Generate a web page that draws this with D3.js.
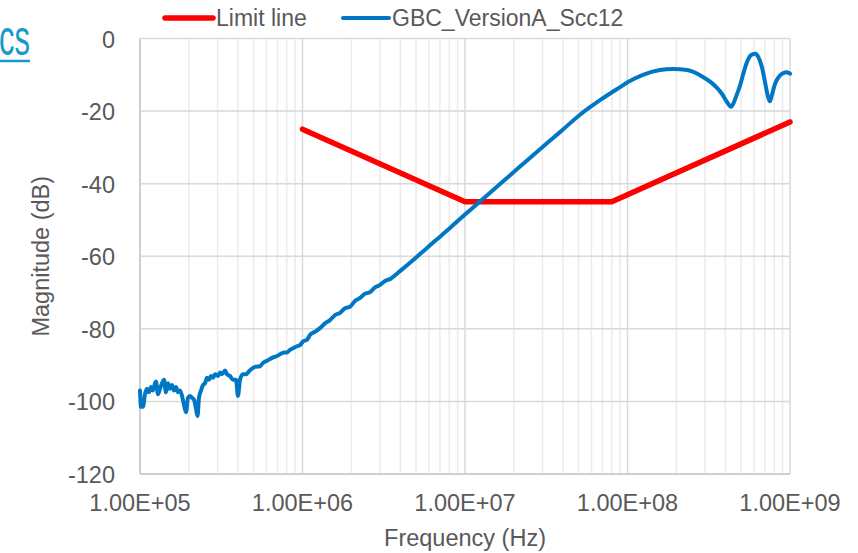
<!DOCTYPE html>
<meta charset="utf-8">
<style>
body { margin: 0; background: #fff; }
text { font-family: "Liberation Sans", Arial, sans-serif; fill: #595959; }
</style>
<svg width="858" height="553"></svg>
<script src="https://d3js.org/d3.v7.min.js"></script>
<script>

// measured trace (Hz, dB)
var sccFreq = [
  1.000e5, 1.014e5, 1.043e5, 1.073e5, 1.104e5, 1.136e5, 1.169e5, 1.202e5, 1.237e5, 1.254e5,
  1.290e5, 1.328e5, 1.366e5, 1.405e5, 1.445e5, 1.487e5, 1.530e5, 1.574e5, 1.619e5, 1.666e5,
  1.714e5, 1.763e5, 1.814e5, 1.866e5, 1.919e5, 1.974e5, 2.031e5, 2.089e5, 2.149e5, 2.211e5,
  2.259e5, 2.307e5, 2.373e5, 2.442e5, 2.512e5, 2.584e5, 2.659e5, 2.735e5, 2.814e5, 2.895e5,
  3.020e5, 3.107e5, 3.196e5, 3.335e5, 3.431e5, 3.580e5, 3.735e5, 3.897e5, 4.009e5, 4.125e5,
  4.304e5, 4.490e5, 4.753e5, 5.102e5, 5.476e5, 5.714e5, 6.047e5, 6.492e5, 6.969e5, 7.271e5,
  7.695e5, 8.029e5, 8.377e5, 8.865e5, 9.250e5, 9.652e5, 1.007e6, 1.066e6, 1.112e6, 1.194e6,
  1.281e6, 1.375e6, 1.476e6, 1.585e6, 1.701e6, 1.826e6, 1.960e6, 2.104e6, 2.259e6, 2.424e6,
  2.602e6, 2.793e6, 2.999e6, 3.219e6, 3.455e6, 3.981e6, 4.587e6, 5.285e6, 6.089e6, 7.017e6,
  8.085e6, 1.000e7, 1.237e7, 1.642e7, 2.180e7, 2.894e7, 3.842e7, 5.102e7, 6.774e7, 8.993e7,
  1.007e8, 1.245e8, 1.585e8, 1.905e8, 2.324e8, 2.914e8, 3.310e8, 3.554e8, 3.820e8, 4.096e8,
  4.335e8, 4.523e8, 4.720e8, 4.924e8, 5.138e8, 5.437e8, 5.754e8, 6.091e8, 6.446e8, 6.725e8,
  7.017e8, 7.320e8, 7.532e8, 7.748e8, 8.085e8, 8.557e8, 9.055e8, 9.583e8, 1.000e9
];
var sccMag = [
  -97, -101.5, -101.5, -98, -96.5, -97.5, -96, -97, -95, -94.5,
  -98, -96.5, -95, -94, -97.5, -95, -96.5, -95.5, -97, -96,
  -97.5, -97, -98.5, -101, -103, -99, -98.5, -99, -99.5, -102,
  -104, -99, -97, -95.5, -95, -93.5, -94, -93, -93.5, -92.5,
  -93, -92, -92.5, -91.5, -92.5, -93, -94, -94, -98.5, -94,
  -92.5, -92.5, -91.4, -90.5, -90.3, -89.4, -88.8, -88, -87.5, -87,
  -86.5, -86.5, -85.8, -85.2, -84.8, -84.5, -83.5, -83, -81.7, -80.8,
  -79.8, -78.5, -77.6, -76.2, -75.6, -74.3, -73.9, -72.3, -71.5, -70.3,
  -69.9, -68.6, -67.9, -66.8, -66.3, -64.1, -61.8, -59.4, -57.0, -54.6,
  -52.2, -48.5, -44.9, -40.1, -35.3, -30.5, -25.8, -21, -17, -13.4,
  -12.0, -10, -8.7, -8.4, -8.7, -10.6, -12.3, -13.6, -15.3, -17.5,
  -18.8, -17.5, -15.3, -13, -10, -6.5, -4.6, -4.2, -5.5, -8,
  -12, -16, -17.3, -15.5, -12.5, -10.5, -9.6, -9.3, -9.7
];

var limitFreq = [1e6, 1e7, 8e7, 1e9];
var limitMag = [-25, -45, -45, -23];

var xTicks = [1e5, 1e6, 1e7, 1e8, 1e9];
var xTickLabels = ["1.00E+05", "1.00E+06", "1.00E+07", "1.00E+08", "1.00E+09"];
var yTicks = [0, -20, -40, -60, -80, -100, -120];

var seriesNames = ["Limit line", "GBC_VersionA_Scc12"];

var svg = d3.select("svg");
var pLeft = 140, pRight = 790, pTop = 38.5, pBottom = 474;

var x = d3.scaleLog().domain([1e5, 1e9]).range([pLeft, pRight]);
var y = d3.scaleLinear().domain([-120, 0]).range([pBottom, pTop]);

// minor vertical grid
var minor = [];
for (var p = 5; p < 9; p++) {
  for (var k = 2; k <= 9; k++) minor.push(k * Math.pow(10, p));
}
svg.append("g").selectAll("line").data(minor).enter().append("line")
  .attr("x1", function(d) { return x(d); }).attr("x2", function(d) { return x(d); })
  .attr("y1", pTop).attr("y2", pBottom)
  .attr("stroke", "#ebebeb").attr("stroke-width", 1.5);

// major grid
svg.append("g").selectAll("line").data(xTicks).enter().append("line")
  .attr("x1", function(d) { return x(d); }).attr("x2", function(d) { return x(d); })
  .attr("y1", pTop).attr("y2", pBottom)
  .attr("stroke", "#d9d9d9").attr("stroke-width", 1.5);
svg.append("g").selectAll("line").data(yTicks).enter().append("line")
  .attr("x1", pLeft).attr("x2", pRight)
  .attr("y1", function(d) { return y(d); }).attr("y2", function(d) { return y(d); })
  .attr("stroke", "#d9d9d9").attr("stroke-width", 1.5);

// axis lines
svg.append("line").attr("x1", pLeft).attr("x2", pLeft).attr("y1", pTop).attr("y2", pBottom)
  .attr("stroke", "#c8c8c8").attr("stroke-width", 1.5);
svg.append("line").attr("x1", pLeft).attr("x2", pRight).attr("y1", pBottom).attr("y2", pBottom)
  .attr("stroke", "#c8c8c8").attr("stroke-width", 1.5);

// tick labels
svg.append("g").selectAll("text").data(yTicks).enter().append("text")
  .attr("x", 115).attr("y", function(d) { return y(d) + 9; })
  .attr("text-anchor", "end").style("font-size", "23.5px")
  .text(function(d) { return d; });
svg.append("g").selectAll("text").data(xTicks).enter().append("text")
  .attr("x", function(d) { return x(d); }).attr("y", 511)
  .attr("text-anchor", "middle").style("font-size", "23.5px")
  .text(function(d, i) { return xTickLabels[i]; });

// axis titles
svg.append("text").attr("x", 465).attr("y", 546).attr("text-anchor", "middle")
  .style("font-size", "23.5px").text("Frequency (Hz)");
svg.append("text").attr("transform", "translate(49," + ((pTop + pBottom) / 2) + ") rotate(-90)")
  .attr("text-anchor", "middle").style("font-size", "23.5px").text("Magnitude (dB)");

// series
var line = d3.line()
  .x(function(d) { return x(d[0]); })
  .y(function(d) { return y(d[1]); });

svg.append("path")
  .datum(limitFreq.map(function(f, i) { return [f, limitMag[i]]; }))
  .attr("d", line.curve(d3.curveLinear))
  .attr("fill", "none").attr("stroke", "#ff0000").attr("stroke-width", 5.5)
  .attr("stroke-linejoin", "round").attr("stroke-linecap", "round");

svg.append("path")
  .datum(sccFreq.map(function(f, i) { return [f, sccMag[i]]; }))
  .attr("d", line.curve(d3.curveMonotoneX))
  .attr("fill", "none").attr("stroke", "#0077c5").attr("stroke-width", 4)
  .attr("stroke-linejoin", "round").attr("stroke-linecap", "round");

// legend
svg.append("line").attr("x1", 165).attr("x2", 213).attr("y1", 18).attr("y2", 18)
  .attr("stroke", "#ff0000").attr("stroke-width", 5.5).attr("stroke-linecap", "round");
svg.append("text").attr("x", 216).attr("y", 26).style("font-size", "23px").text(seriesNames[0]);
svg.append("line").attr("x1", 343).attr("x2", 389).attr("y1", 18).attr("y2", 18)
  .attr("stroke", "#0077c5").attr("stroke-width", 4).attr("stroke-linecap", "round");
svg.append("text").attr("x", 392).attr("y", 26).style("font-size", "23px").text(seriesNames[1]);

// clipped slide title fragment
svg.append("text").attr("x", 30).attr("y", 55).attr("text-anchor", "end")
  .style("font-size", "50px").style("fill", "#1a99c9")
  .attr("transform", "translate(30,0) scale(0.62,1) translate(-30,0)")
  .text("cs");
svg.append("line").attr("x1", 0).attr("x2", 30).attr("y1", 61).attr("y2", 61)
  .attr("stroke", "#1a99c9").attr("stroke-width", 2.5);

</script>
